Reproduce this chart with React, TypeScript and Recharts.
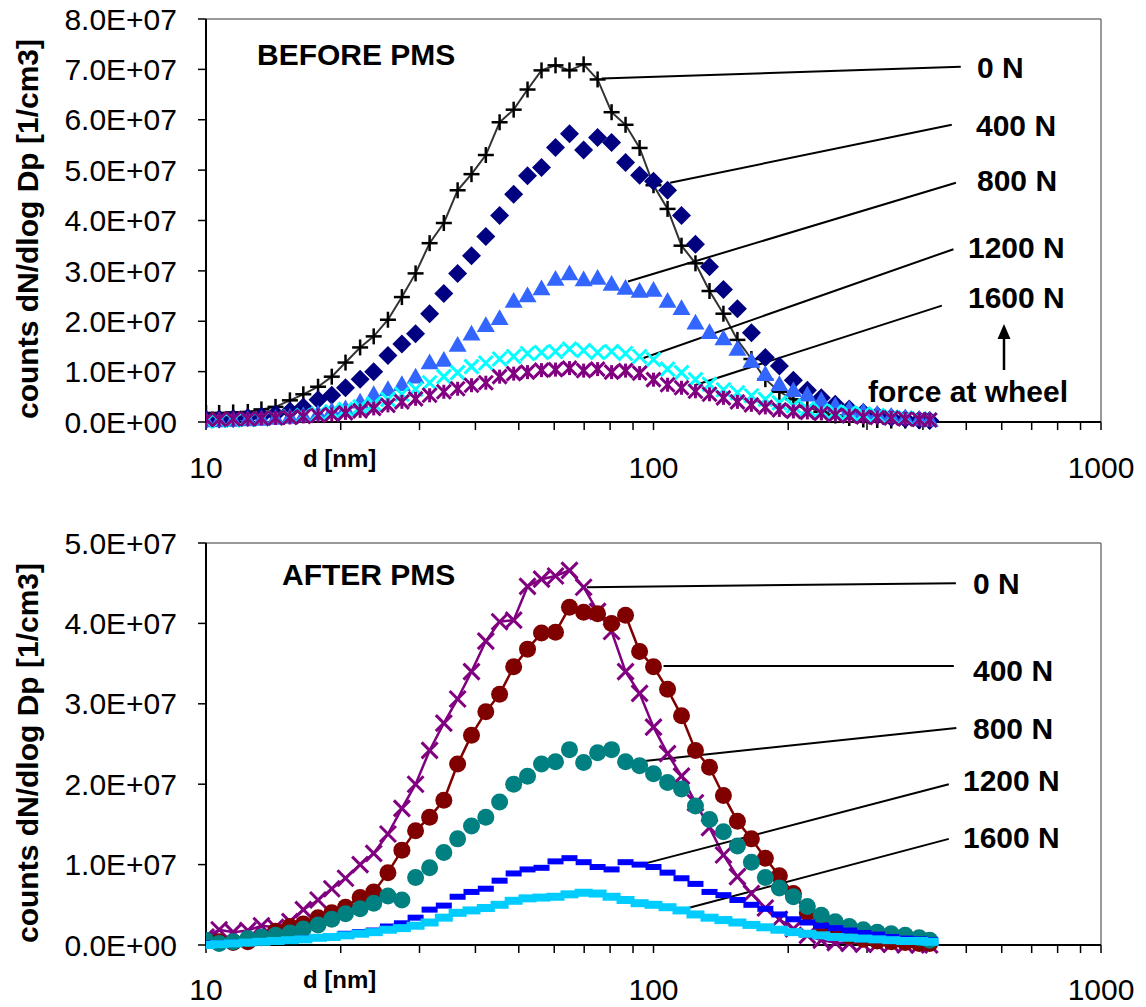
import React from 'react';
import { LineChart, Line, XAxis, YAxis, ReferenceLine } from 'recharts';

// particle diameters d [nm], one per SMPS channel
const DIAMETERS = [
  10.0, 10.7, 11.5, 12.4, 13.3, 14.3, 15.4, 16.5, 17.8, 19.1,
  20.5, 22.1, 23.7, 25.5, 27.4, 29.4, 31.6, 34.0, 36.5, 39.2,
  42.2, 45.3, 48.7, 52.3, 56.2, 60.4, 64.9, 69.8, 75.0, 80.6,
  86.6, 93.1, 100, 107.5, 115.5, 124.1, 133.4, 143.3, 154.0, 165.5,
  177.8, 191.1, 205.4, 220.7, 237.1, 254.8, 273.8, 294.3, 316.2, 339.8,
  365.2, 392.4, 414.2,
];

// counts dN/dlog Dp in units of 1E+06 1/cm3 — before PMS
const BEFORE_0N = [
  1.8, 1.8, 1.9, 2.0, 2.5, 3.0, 4.3, 5.5, 7.0, 9.0,
  11.8, 14.8, 17.0, 20.3, 24.8, 29.5, 35.5, 39.5, 46.0, 49.2,
  53.0, 59.5, 62.0, 66.0, 69.8, 70.8, 69.8, 71.0, 68.0, 61.5,
  59.0, 54.4, 47.0, 42.3, 35.0, 31.5, 26.0, 21.5, 16.3, 12.5,
  8.5, 6.0, 4.5, 3.0, 2.0, 1.3, 0.8, 0.5, 0.4, 0.3,
  0.3, 0.2, 0.2,
];
const BEFORE_400N = [
  0.5, 0.6, 0.7, 0.9, 1.2, 1.6, 2.2, 3.0, 4.4, 5.3,
  6.8, 8.5, 10.0, 13.2, 15.5, 17.5, 21.5, 25.5, 29.5, 33.0,
  36.8, 41.0, 45.2, 48.9, 50.5, 54.5, 57.2, 54.0, 56.5, 55.5,
  51.5, 49.0, 47.8, 46.0, 41.0, 35.3, 30.8, 26.3, 22.5, 17.7,
  12.8, 11.1, 8.3, 6.3, 4.8, 3.5, 2.6, 1.9, 1.3, 0.9,
  0.6, 0.4, 0.3,
];
const BEFORE_800N = [
  0.3, 0.3, 0.4, 0.5, 0.6, 0.8, 1.0, 1.3, 1.7, 2.2,
  2.7, 4.0, 5.5, 6.5, 7.5, 9.0, 11.8, 12.3, 15.3, 17.5,
  19.2, 20.6, 24.0, 25.1, 26.5, 28.4, 29.5, 28.3, 28.6, 27.4,
  26.6, 26.0, 26.2, 24.0, 22.6, 19.7, 17.8, 16.6, 14.5, 12.1,
  9.5, 7.5, 6.3, 5.4, 4.3, 3.3, 2.6, 2.1, 1.6, 1.2,
  0.9, 0.6, 0.4,
];
const BEFORE_1200N = [
  0.2, 0.3, 0.4, 0.5, 0.6, 0.8, 1.0, 1.3, 1.6, 2.0,
  2.5, 3.0, 3.6, 4.5, 5.5, 6.5, 7.8, 9.0, 9.8, 11.0,
  11.7, 12.5, 13.0, 13.6, 13.8, 14.0, 14.5, 14.2, 13.8, 14.0,
  13.6, 13.0, 12.4, 10.5, 9.8, 8.4, 7.5, 6.4, 5.8, 5.2,
  4.5, 3.8, 3.2, 2.6, 2.2, 2.0, 1.8, 1.6, 1.3, 1.0,
  0.8, 0.6, 0.4,
];
const BEFORE_1600N = [
  0.5, 0.5, 0.6, 0.6, 0.7, 0.8, 0.9, 1.1, 1.3, 1.5,
  1.8, 2.2, 2.7, 3.3, 4.0, 4.6, 5.3, 6.0, 6.6, 7.3,
  7.8, 9.0, 9.6, 9.9, 10.3, 10.4, 10.7, 10.2, 10.5, 9.9,
  10.2, 9.7, 8.4, 7.4, 6.8, 6.1, 5.5, 4.8, 4.0, 3.4,
  2.9, 2.4, 2.1, 1.9, 1.7, 1.4, 1.2, 1.0, 0.9, 0.8,
  0.6, 0.5, 0.4,
];

// after PMS
const AFTER_0N = [
  1.0, 1.9, 1.6, 1.8, 2.4, 2.2, 2.9, 4.4, 5.6, 7.0,
  8.3, 10.0, 11.4, 13.8, 17.0, 20.0, 24.2, 27.6, 30.6, 34.0,
  37.8, 40.2, 40.4, 44.6, 45.5, 45.9, 46.6, 44.5, 41.5, 39.0,
  34.0, 31.3, 27.1, 23.8, 21.0, 17.7, 14.6, 11.2, 8.5, 6.4,
  4.6, 3.2, 2.0, 1.2, 0.6, 0.3, 0.2, 0.1, 0.1, 0.1,
  0.0, 0.0, 0.0,
];
const AFTER_400N = [
  0.6, 0.4, 0.3, 0.4, 0.9, 1.7, 2.3, 2.6, 3.4, 4.0,
  4.7, 5.9, 6.6, 9.0, 11.8, 14.2, 15.9, 18.0, 22.5, 26.1,
  29.0, 31.2, 34.6, 36.8, 38.8, 38.9, 42.0, 41.4, 41.2, 40.0,
  41.0, 36.5, 34.6, 31.8, 28.5, 24.2, 22.1, 18.6, 15.4, 13.2,
  10.8, 8.6, 6.4, 4.0, 2.5, 1.7, 1.1, 0.7, 0.5, 0.4,
  0.3, 0.2, 0.2,
];
const AFTER_800N = [
  0.6, 0.2, 0.4, 0.8, 1.0, 1.2, 1.5, 2.0, 2.5, 3.2,
  3.9, 4.5, 5.2, 6.1, 5.6, 8.4, 9.6, 11.5, 13.2, 14.8,
  15.9, 17.8, 20.0, 21.0, 22.5, 22.8, 24.3, 22.7, 23.9, 24.3,
  22.8, 22.3, 21.3, 20.2, 19.4, 17.3, 15.6, 14.1, 12.3, 10.3,
  8.4, 7.1, 6.0, 4.8, 3.7, 2.9, 2.3, 1.9, 1.6, 1.4,
  1.2, 0.9, 0.6,
];
const AFTER_1200N = [
  0.2, 0.2, 0.3, 0.3, 0.4, 0.5, 0.6, 0.8, 0.9, 1.1,
  1.4, 1.6, 1.8, 2.3, 2.7, 3.4, 4.4, 4.9, 6.0, 6.6,
  7.0, 8.0, 8.9, 9.4, 9.6, 10.4, 10.8, 10.3, 9.7, 9.4,
  10.3, 10.0, 9.7, 9.0, 8.3, 7.6, 6.6, 6.2, 5.6, 5.0,
  4.5, 3.8, 3.2, 2.8, 2.4, 2.1, 1.8, 1.5, 1.3, 1.0,
  0.8, 0.7, 0.6,
];
const AFTER_1600N = [
  0.0, 0.1, 0.2, 0.3, 0.4, 0.5, 0.6, 0.7, 0.9, 1.0,
  1.2, 1.4, 1.6, 1.9, 2.1, 2.4, 2.8, 3.4, 4.0, 4.3,
  4.6, 5.0, 5.5, 5.8, 5.9, 6.0, 6.3, 6.5, 6.4, 6.0,
  5.6, 5.2, 5.0, 4.7, 4.3, 3.8, 3.4, 3.1, 2.8, 2.5,
  2.2, 1.9, 1.6, 1.4, 1.2, 1.0, 0.9, 0.8, 0.7, 0.6,
  0.5, 0.5, 0.4,
];

const X_TICKS = [10, 20, 30, 40, 50, 60, 70, 80, 90, 100, 200, 300, 400, 500, 600, 700, 800, 900, 1000];
const X_LABELED = [10, 100, 1000];
const BEFORE_Y_TICKS = [0, 10, 20, 30, 40, 50, 60, 70, 80];
const AFTER_Y_TICKS = [0, 10, 20, 30, 40, 50];
const FORCES = ['0 N', '400 N', '800 N', '1200 N', '1600 N'];

// leader lines from curve to force label: [d1, y1, d2, y2] (nm, 1E+06)
const BEFORE_LEADERS = [
  [76.6, 68.2, 486, 70.5],
  [108.9, 47.5, 464, 59.0],
  [87.7, 27.9, 474, 47.5],
  [95.0, 12.7, 468, 34.3],
  [123.6, 7.3, 441, 23.1],
];
const AFTER_LEADERS = [
  [71.0, 44.5, 474, 45.0],
  [105.3, 34.7, 469, 34.7],
  [95.5, 22.9, 475, 27.0],
  [93.6, 10.0, 457, 20.0],
  [115, 4.35, 457, 13.2],
];

const FONT = "'Liberation Sans', Arial, Helvetica, sans-serif";

const sci = (v: number) => {
  const [m, e] = (v * 1e6).toExponential(1).split('e');
  const n = Number(e);
  return `${m}E${n < 0 ? '-' : '+'}${String(Math.abs(n)).padStart(2, '0')}`;
};

type Kind = 'plus' | 'diamond' | 'triangle' | 'cross' | 'star' | 'circle' | 'dash';

const marker = (kind: Kind, color: string, s: number, sw = 2) => (p: any) => {
  const { cx, cy, index } = p;
  if (cx == null || cy == null || isNaN(cx) || isNaN(cy)) return <g key={index} />;
  switch (kind) {
    case 'plus':
      return (
        <g key={index} stroke={color} strokeWidth={sw}>
          <line x1={cx - s} y1={cy} x2={cx + s} y2={cy} />
          <line x1={cx} y1={cy - s} x2={cx} y2={cy + s} />
        </g>
      );
    case 'diamond':
      return <polygon key={index} points={`${cx},${cy - s} ${cx + s},${cy} ${cx},${cy + s} ${cx - s},${cy}`} fill={color} />;
    case 'triangle':
      return <polygon key={index} points={`${cx},${cy - s} ${cx + s},${cy + s * 0.75} ${cx - s},${cy + s * 0.75}`} fill={color} />;
    case 'cross':
      return (
        <g key={index} stroke={color} strokeWidth={sw}>
          <line x1={cx - s} y1={cy - s} x2={cx + s} y2={cy + s} />
          <line x1={cx - s} y1={cy + s} x2={cx + s} y2={cy - s} />
        </g>
      );
    case 'star':
      return (
        <g key={index} stroke={color} strokeWidth={sw}>
          <line x1={cx - s} y1={cy - s} x2={cx + s} y2={cy + s} />
          <line x1={cx - s} y1={cy + s} x2={cx + s} y2={cy - s} />
          <line x1={cx} y1={cy - s} x2={cx} y2={cy + s} />
        </g>
      );
    case 'circle':
      return <circle key={index} cx={cx} cy={cy} r={s} fill={color} />;
    case 'dash':
      return <rect key={index} x={cx - s} y={cy - sw / 2} width={s * 2} height={sw} fill={color} />;
  }
  return <g key={index} />;
};

interface Series {
  key: string;
  values: number[];
  line: string;
  lineWidth: number;
  dot: (p: any) => React.ReactElement;
}

const BEFORE_SERIES: Series[] = [
  { key: 'n0', values: BEFORE_0N, line: '#333333', lineWidth: 2, dot: marker('plus', '#000000', 8, 2.5) },
  { key: 'n400', values: BEFORE_400N, line: 'none', lineWidth: 0, dot: marker('diamond', '#000080', 9.5) },
  { key: 'n800', values: BEFORE_800N, line: 'none', lineWidth: 0, dot: marker('triangle', '#3366FF', 9) },
  { key: 'n1200', values: BEFORE_1200N, line: 'none', lineWidth: 0, dot: marker('cross', '#00FFFF', 7, 3) },
  { key: 'n1600', values: BEFORE_1600N, line: 'none', lineWidth: 0, dot: marker('star', '#800080', 7, 3) },
];

const AFTER_SERIES: Series[] = [
  { key: 'n0', values: AFTER_0N, line: '#800080', lineWidth: 2.5, dot: marker('cross', '#800080', 8, 3) },
  { key: 'n400', values: AFTER_400N, line: '#800000', lineWidth: 2.5, dot: marker('circle', '#800000', 8.5) },
  { key: 'n800', values: AFTER_800N, line: 'none', lineWidth: 0, dot: marker('circle', '#008080', 8.5) },
  { key: 'n1200', values: AFTER_1200N, line: 'none', lineWidth: 0, dot: marker('dash', '#0000FF', 8, 6) },
  { key: 'n1600', values: AFTER_1600N, line: 'none', lineWidth: 0, dot: marker('dash', '#00CCFF', 9, 8) },
];

const buildRows = (series: Series[]) =>
  DIAMETERS.map((d, i) => {
    const row: Record<string, number> = { d };
    series.forEach((s) => {
      row[s.key] = s.values[i];
    });
    return row;
  });

interface PanelProps {
  series: Series[];
  yTicks: number[];
  leaders: number[][];
  top: number;
  height: number;
  marginTop: number;
  xAxisHeight: number;
  xTickMargin: number;
}

function Panel({ series, yTicks, leaders, top, height, marginTop, xAxisHeight, xTickMargin }: PanelProps) {
  const rows = buildRows(series);
  const yMax = yTicks[yTicks.length - 1];
  return (
    <div style={{ position: 'absolute', left: 0, top }}>
      <LineChart width={1146} height={height} data={rows} margin={{ top: marginTop, right: 45, bottom: 0, left: 0 }}>
        <XAxis
          dataKey="d"
          type="number"
          scale="log"
          domain={[10, 1000]}
          ticks={X_TICKS}
          interval={0}
          allowDataOverflow
          height={xAxisHeight}
          tickSize={8}
          tickMargin={xTickMargin}
          tickFormatter={(v: number) => (X_LABELED.includes(v) ? String(v) : '')}
          axisLine={{ stroke: '#000', strokeWidth: 2 }}
          tickLine={{ stroke: '#000', strokeWidth: 1.5 }}
          tick={{ fill: '#000', fontSize: 30, fontFamily: FONT }}
        />
        <YAxis
          type="number"
          domain={[0, yMax]}
          ticks={yTicks}
          interval={0}
          width={206}
          tickSize={8}
          tickMargin={21}
          tickFormatter={sci}
          axisLine={{ stroke: '#000', strokeWidth: 2 }}
          tickLine={{ stroke: '#000', strokeWidth: 1.5 }}
          tick={{ fill: '#000', fontSize: 30, fontFamily: FONT }}
        />
        <ReferenceLine y={yMax} stroke="#777" strokeWidth={1.5} ifOverflow="visible" />
        <ReferenceLine x={1000} stroke="#777" strokeWidth={1.5} ifOverflow="visible" />
        {series.map((s) => (
          <Line
            key={s.key}
            dataKey={s.key}
            type="linear"
            stroke={s.line}
            strokeWidth={s.lineWidth}
            dot={s.dot}
            activeDot={false}
            isAnimationActive={false}
          />
        ))}
        {leaders.map((l, i) => (
          <ReferenceLine
            key={i}
            segment={[{ x: l[0], y: l[1] }, { x: l[2], y: l[3] }]}
            stroke="#000"
            strokeWidth={2}
          />
        ))}
      </LineChart>
    </div>
  );
}

const BEFORE_LABEL_POS = [
  [977, 78],
  [976, 136],
  [977, 191],
  [968, 258],
  [968, 308],
];
const AFTER_LABEL_POS = [
  [973, 594],
  [973, 681],
  [973, 739],
  [963, 791],
  [963, 848],
];

export default function App() {
  const bold = { fontFamily: FONT, fontWeight: 700, fontSize: 30, fill: '#000' };
  return (
    <div style={{ position: 'absolute', left: 0, top: 0, width: 1146, height: 1007, background: '#fff' }}>
      <Panel
        series={BEFORE_SERIES}
        yTicks={BEFORE_Y_TICKS}
        leaders={BEFORE_LEADERS}
        top={0}
        height={500}
        marginTop={19}
        xAxisHeight={78}
        xTickMargin={27}
      />
      <Panel
        series={AFTER_SERIES}
        yTicks={AFTER_Y_TICKS}
        leaders={AFTER_LEADERS}
        top={520}
        height={487}
        marginTop={23}
        xAxisHeight={62}
        xTickMargin={26}
      />
      <svg width={1146} height={1007} style={{ position: 'absolute', left: 0, top: 0, pointerEvents: 'none' }}>
        <text x={257} y={65} {...bold}>BEFORE PMS</text>
        <text x={282} y={585} {...bold}>AFTER PMS</text>
        {FORCES.map((f, i) => (
          <text key={'b' + f} x={BEFORE_LABEL_POS[i][0]} y={BEFORE_LABEL_POS[i][1]} {...bold}>{f}</text>
        ))}
        {FORCES.map((f, i) => (
          <text key={'a' + f} x={AFTER_LABEL_POS[i][0]} y={AFTER_LABEL_POS[i][1]} {...bold}>{f}</text>
        ))}
        <text x={868} y={402} {...bold}>force at wheel</text>
        <line x1={1004} y1={370} x2={1004} y2={336} stroke="#000" strokeWidth={2.5} />
        <polygon points="1004,324 997.5,339 1010.5,339" fill="#000" />
        <text x={303} y={467} fontFamily={FONT} fontWeight={700} fontSize={24} fill="#000">d [nm]</text>
        <text x={303} y={988} fontFamily={FONT} fontWeight={700} fontSize={24} fill="#000">d [nm]</text>
        <text transform="rotate(-90)" x={-229} y={38} textAnchor="middle" {...bold}>
          counts dN/dlog Dp [1/cm3]
        </text>
        <text transform="rotate(-90)" x={-753} y={38} textAnchor="middle" {...bold}>
          counts dN/dlog Dp [1/cm3]
        </text>
      </svg>
    </div>
  );
}
